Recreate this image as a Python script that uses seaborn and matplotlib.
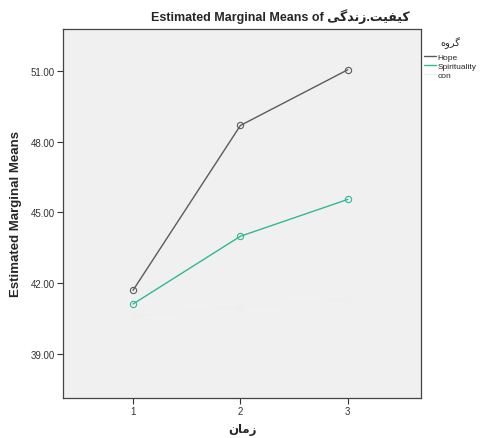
import matplotlib
matplotlib.use("Agg")
import matplotlib.pyplot as plt
import seaborn as sns
import pandas as pd
from matplotlib.lines import Line2D

# Data
times = [1, 2, 3]
groups = ["Hope", "Spirituality", "con"]
hope = [41.70, 48.68, 51.04]
spirituality = [41.12, 43.99, 45.55]
con = [40.60, 41.00, 41.30]
yticks = [39.0, 42.0, 45.0, 48.0, 51.0]

# Pre-shaped (visual order) Persian strings
var_name = "\uFBFD\uFB94\uFEAA\uFEE7\uFEAF.\uFE96\uFBFF\uFED4\uFBFF\uFB90"  # کیفیت.زندگی
legend_title = "\uFEE9\uFEED\uFEAE\uFB94"  # گروه
xlabel = "\uFEE5\uFE8E\uFEE3\uFEAF"  # زمان

sns.set_style("white")
plt.rcParams['font.family'] = ['Liberation Sans', 'DejaVu Sans']

df = pd.DataFrame({
    "time": times * 3,
    "value": hope + spirituality + con,
    "group": ["Hope"] * 3 + ["Spirituality"] * 3 + ["con"] * 3,
})

colors = {"Hope": "#5b5b5b", "Spirituality": "#2fb894", "con": "#f3eded"}

fig = plt.figure(figsize=(4.86, 4.39), dpi=100)
ax = fig.add_axes([0.130, 0.091, 0.736, 0.841])
ax.set_facecolor("#f0f0f0")

sns.lineplot(data=df, x="time", y="value", hue="group", hue_order=groups,
             palette=colors, marker="o", markersize=4.5, markerfacecolor="none",
             markeredgewidth=0.8, linewidth=1.0, ax=ax, legend=False)
for line, g in zip(ax.get_lines(), groups):
    line.set_markeredgecolor(colors[g])

ax.set_xlim(0.35, 3.68)
ax.set_ylim(37.14, 52.77)
ax.set_xticks(times)
ax.set_xticklabels([str(t) for t in times])
ax.set_yticks(yticks)
ax.set_yticklabels([f"{v:.2f}" for v in yticks])
ax.tick_params(axis="both", labelsize=7, colors="#333333", length=4, width=0.8,
               direction="out", left=True, bottom=True, pad=2)
for s in ax.spines.values():
    s.set_color("#444444")
    s.set_linewidth(0.9)

ax.set_xlabel(xlabel, fontsize=8.5, fontweight="bold", family=['DejaVu Sans'], labelpad=4)
ax.set_ylabel("Estimated Marginal Means", fontsize=9.5, fontweight="bold", labelpad=6)
fig.text(280 / 486, 1 - 17 / 439, "Estimated Marginal Means of " + var_name,
         fontsize=9, fontweight="bold", ha="center", va="center",
         family=['Liberation Sans', 'DejaVu Sans'])

handles = [Line2D([], [], color=colors[g], lw=1.0) for g in groups]
leg = ax.legend(handles, groups, title=legend_title, loc="upper left",
                bbox_to_anchor=(0.995, 0.995), frameon=False, fontsize=6.0,
                title_fontsize=7, handlelength=1.4, handletextpad=0.2,
                labelspacing=0.12, borderaxespad=0.2)
leg.get_title().set_family(['DejaVu Sans'])
leg._legend_box.sep = 4

fig.savefig("out.png", dpi=100, facecolor="white")
